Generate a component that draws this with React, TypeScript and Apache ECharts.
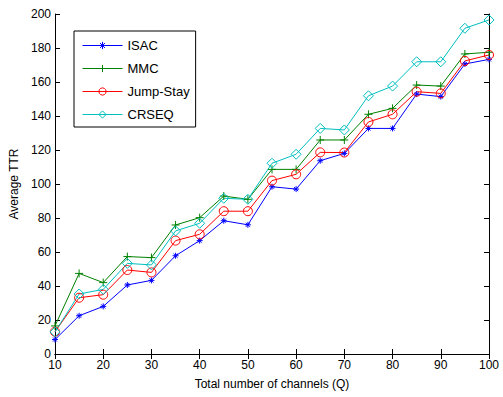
import React, { useEffect, useRef } from "react";
import * as echarts from "echarts";

const xValues = [10, 15, 20, 25, 30, 35, 40, 45, 50, 55, 60, 65, 70, 75, 80, 85, 90, 95, 100];
const isac = [8.5, 22.5, 28, 40.6, 43.3, 57.8, 66.7, 78.4, 76, 98.4, 97, 113.7, 118, 132.7, 132.7, 152.9, 151.4, 170.6, 173.3];
const mmc = [16.5, 47.4, 42, 57.3, 56.7, 75.9, 80.2, 92.9, 91, 108.6, 108.6, 125.9, 125.9, 141, 144.5, 158.2, 157.6, 176.5, 177.5];
const jumpStay = [13.1, 33.1, 34.9, 49.4, 48, 66.7, 70.4, 84, 84, 102, 105.7, 118.6, 118.5, 136.5, 141, 154.3, 153.3, 172.4, 175.9];
const crseq = [13, 35.3, 38, 53.3, 52.4, 72.4, 76.9, 91.6, 91, 112.2, 117.5, 132.7, 131.8, 151.9, 157.6, 171.9, 171.9, 191.6, 196.5];
const seriesNames = ["ISAC", "MMC", "Jump-Stay", "CRSEQ"];
const seriesColors = ["#0000ff", "#008000", "#ff0000", "#00bfbf"];

const FONT = "'Liberation Sans', Arial, Helvetica, sans-serif";

export default function App() {
  const ref = useRef<HTMLDivElement>(null);
  useEffect(() => {
    document.body.style.margin = "0";
    const chart = echarts.init(ref.current!, null, { renderer: "svg" });
    const mk = (vals: number[]) => xValues.map((x, i) => [x, vals[i]]);
    const asterisk = "path://M5,0 L5,10 M0,5 L10,5 M1.6,1.6 L8.4,8.4 M1.6,8.4 L8.4,1.6";
    const plus = "path://M5,0 L5,10 M0,5 L10,5";
    const axisCommon = {
      type: "value" as const,
      axisLine: { show: true, lineStyle: { color: "#000", width: 1 } },
      axisTick: { show: true, inside: true, length: 5, lineStyle: { color: "#000" } },
      splitLine: { show: false },
    };
    const mkSeries = (name: string, vals: number[], color: string, symbol: string, size: number) => ({
      name,
      type: "line",
      data: mk(vals),
      symbol,
      symbolSize: size,
      showAllSymbol: true,
      lineStyle: { color, width: 1 },
      itemStyle: { color: "rgba(0,0,0,0)", borderColor: color, borderWidth: 1 },
      emphasis: { disabled: true },
    });
    chart.setOption({
      animation: false,
      textStyle: { fontFamily: FONT },
      grid: { left: 55, right: 14, top: 14, bottom: 43 },
      legend: {
        orient: "vertical",
        left: 74,
        top: 31,
        data: seriesNames.map((name, i) => ({
          name,
          itemStyle: { color: "rgba(0,0,0,0)", borderColor: seriesColors[i], borderWidth: 1 },
          lineStyle: { color: seriesColors[i], width: 1 },
        })),
        itemWidth: 40,
        itemHeight: 9,
        itemGap: 10,
        padding: [8, 6, 6, 8],
        borderColor: "#000",
        borderWidth: 1,
        backgroundColor: "#fff",
        textStyle: { fontFamily: FONT, fontSize: 13, color: "#000" },
      },
      xAxis: [
        {
          ...axisCommon,
          min: 10,
          max: 100,
          interval: 10,
          position: "bottom",
          axisLabel: { color: "#000", fontSize: 12, fontFamily: FONT, margin: 5 },
          name: "Total number of channels (Q)",
          nameLocation: "middle",
          nameGap: 24,
          nameTextStyle: { color: "#000", fontSize: 12, fontFamily: FONT },
        },
        {
          ...axisCommon,
          min: 10,
          max: 100,
          interval: 10,
          position: "top",
          axisLabel: { show: false },
        },
      ],
      yAxis: [
        {
          ...axisCommon,
          min: 0,
          max: 200,
          interval: 20,
          position: "left",
          axisLabel: { color: "#000", fontSize: 12, fontFamily: FONT, margin: 4 },
          name: "Average TTR",
          nameLocation: "middle",
          nameGap: 29,
          nameTextStyle: { color: "#000", fontSize: 12, fontFamily: FONT },
        },
        {
          ...axisCommon,
          min: 0,
          max: 200,
          interval: 20,
          position: "right",
          axisLabel: { show: false },
        },
      ],
      series: [
        mkSeries(seriesNames[0], isac, seriesColors[0], asterisk, 6),
        mkSeries(seriesNames[1], mmc, seriesColors[1], plus, 8),
        mkSeries(seriesNames[2], jumpStay, seriesColors[2], "circle", 9),
        mkSeries(seriesNames[3], crseq, seriesColors[3], "diamond", 10),
      ],
    });
    return () => chart.dispose();
  }, []);
  return <div ref={ref} style={{ width: 503, height: 397 }} />;
}
